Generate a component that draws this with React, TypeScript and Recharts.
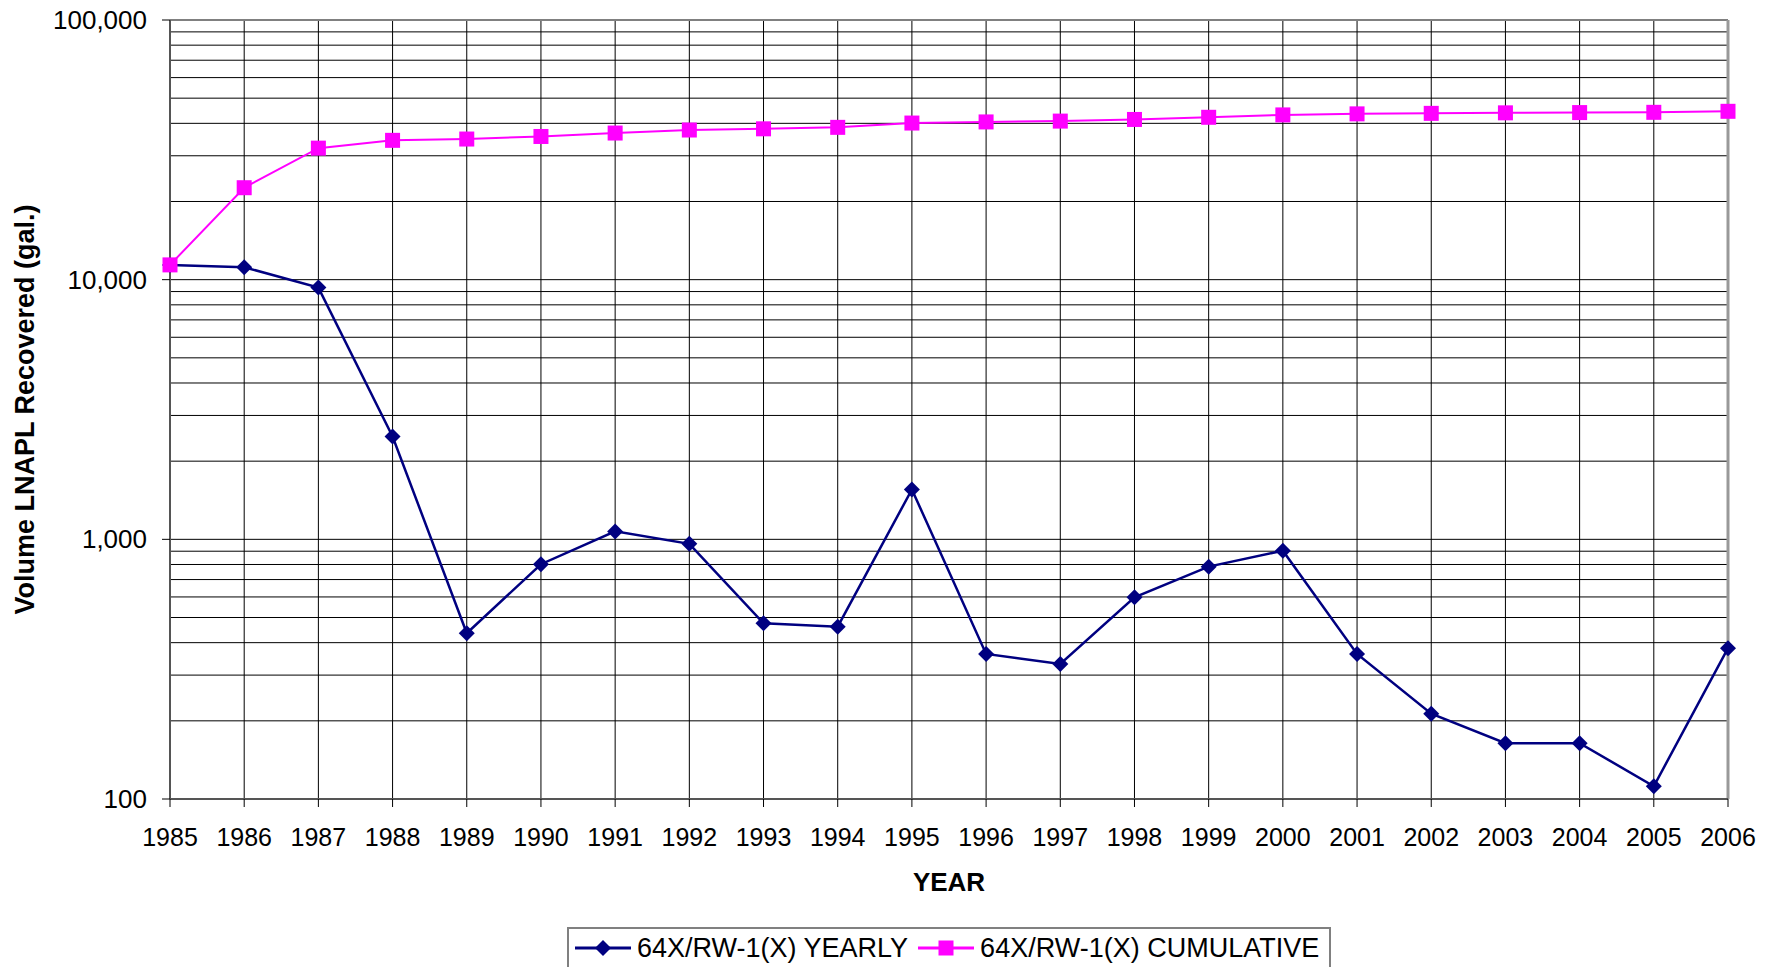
import React from 'react';
import { LineChart, Line, XAxis, YAxis, CartesianGrid, Legend, ReferenceLine, Label } from 'recharts';

const years = [1985, 1986, 1987, 1988, 1989, 1990, 1991, 1992, 1993, 1994, 1995, 1996, 1997, 1998, 1999, 2000, 2001, 2002, 2003, 2004, 2005, 2006];
const yearly = [11400, 11170, 9320, 2490, 435, 802, 1073, 961, 475, 461, 1556, 362, 331, 598, 785, 904, 362, 213, 164, 164, 112, 381];
const cumulative = [11400, 22600, 32100, 34400, 34800, 35600, 36700, 37700, 38100, 38600, 40100, 40500, 40800, 41400, 42200, 43100, 43500, 43700, 43900, 44000, 44100, 44500];
const yTicks = [
  100, 200, 300, 400, 500, 600, 700, 800, 900,
  1000, 2000, 3000, 4000, 5000, 6000, 7000, 8000, 9000,
  10000, 20000, 30000, 40000, 50000, 60000, 70000, 80000, 90000,
  100000,
];
const majorTicks = [100, 1000, 10000, 100000];

const data = years.map((year, i) => ({ year, yearly: yearly[i], cumulative: cumulative[i] }));

const FONT = '"Liberation Sans", Arial, sans-serif';
const NAVY = '#000080';
const MAGENTA = '#FF00FF';

const YTick = ({ x, y, payload }: any) => {
  if (!majorTicks.includes(payload.value)) return null;
  return (
    <g>
      <line x1={x + 15} x2={x + 23} y1={y} y2={y} stroke="#000" strokeWidth={1} />
      <text x={x} y={y} dy={9} textAnchor="end" fontSize={26} fontFamily={FONT} fill="#000">
        {payload.value.toLocaleString('en-US')}
      </text>
    </g>
  );
};

const Diamond = ({ cx, cy, index }: any) => (
  <path key={`d${index}`} d={`M${cx},${cy - 8}L${cx + 8},${cy}L${cx},${cy + 8}L${cx - 8},${cy}Z`} fill={NAVY} />
);

const Square = ({ cx, cy, index }: any) => (
  <rect key={`s${index}`} x={cx - 7.5} y={cy - 7.5} width={15} height={15} fill={MAGENTA} />
);

const LegendBox = () => (
  <div
    style={{
      border: '2px solid #808080',
      background: '#fff',
      height: 60,
      boxSizing: 'border-box',
      display: 'flex',
      alignItems: 'flex-start',
      paddingTop: 4,
      paddingLeft: 6,
      fontFamily: FONT,
      fontSize: 27,
      lineHeight: '30px',
      color: '#000',
      whiteSpace: 'nowrap',
    }}
  >
    <span style={{ display: 'flex', alignItems: 'center' }}>
      <svg width={56} height={30}>
        <line x1={0} x2={56} y1={15} y2={15} stroke={NAVY} strokeWidth={3} />
        <path d="M28,7L36,15L28,23L20,15Z" fill={NAVY} />
      </svg>
      <span style={{ marginLeft: 6 }}>64X/RW-1(X) YEARLY</span>
    </span>
    <span style={{ display: 'flex', alignItems: 'center', marginLeft: 10 }}>
      <svg width={56} height={30}>
        <line x1={0} x2={56} y1={15} y2={15} stroke={MAGENTA} strokeWidth={3} />
        <rect x={20.5} y={7.5} width={15} height={15} fill={MAGENTA} />
      </svg>
      <span style={{ marginLeft: 6 }}>64X/RW-1(X) CUMULATIVE</span>
    </span>
  </div>
);

export default function App() {
  return (
    <div style={{ position: 'absolute', left: 0, top: 0, width: 1780, height: 967, overflow: 'hidden', background: '#fff' }}>
      <LineChart width={1780} height={967} data={data} margin={{ top: 20, right: 52, left: 0, bottom: 0 }}>
        <CartesianGrid stroke="#000" strokeWidth={1} />
        <XAxis
          dataKey="year"
          type="number"
          domain={[1985, 2006]}
          ticks={years}
          height={168}
          tickSize={8}
          tickMargin={21}
          tickLine={{ stroke: '#000' }}
          axisLine={{ stroke: '#555', strokeWidth: 2 }}
          tick={{ fontSize: 25, fontFamily: FONT, fill: '#000' }}
          interval={0}
        >
          <Label
            content={({ viewBox }: any) => (
              <text
                x={viewBox.x + viewBox.width / 2}
                y={viewBox.y + 92}
                textAnchor="middle"
                fontSize={26}
                fontWeight="bold"
                fontFamily={FONT}
                fill="#000"
              >
                YEAR
              </text>
            )}
          />
        </XAxis>
        <YAxis
          scale="log"
          type="number"
          domain={[100, 100000]}
          ticks={yTicks}
          allowDataOverflow
          width={170}
          tickSize={8}
          tickMargin={15}
          tickLine={false}
          axisLine={{ stroke: '#555', strokeWidth: 2 }}
          tick={<YTick />}
          interval={0}
        >
          <Label
            content={({ viewBox }: any) => {
              const cx = viewBox.x + 34;
              const cy = viewBox.y + viewBox.height / 2;
              return (
                <text
                  x={cx}
                  y={cy}
                  transform={`rotate(-90, ${cx}, ${cy})`}
                  textAnchor="middle"
                  fontSize={27}
                  fontWeight="bold"
                  fontFamily={FONT}
                  fill="#000"
                >
                  Volume LNAPL Recovered (gal.)
                </text>
              );
            }}
          />
        </YAxis>
        <ReferenceLine y={100000} stroke="#808080" strokeWidth={2} />
        <ReferenceLine x={2006} stroke="#999" strokeWidth={3} />
        <Line
          dataKey="yearly"
          stroke={NAVY}
          strokeWidth={2.5}
          dot={<Diamond />}
          isAnimationActive={false}
        />
        <Line
          dataKey="cumulative"
          stroke={MAGENTA}
          strokeWidth={2}
          dot={<Square />}
          isAnimationActive={false}
        />
        <Legend
          layout="horizontal"
          verticalAlign="middle"
          align="center"
          wrapperStyle={{ top: 927, left: 567, width: 764 }}
          content={<LegendBox />}
        />
      </LineChart>
    </div>
  );
}
